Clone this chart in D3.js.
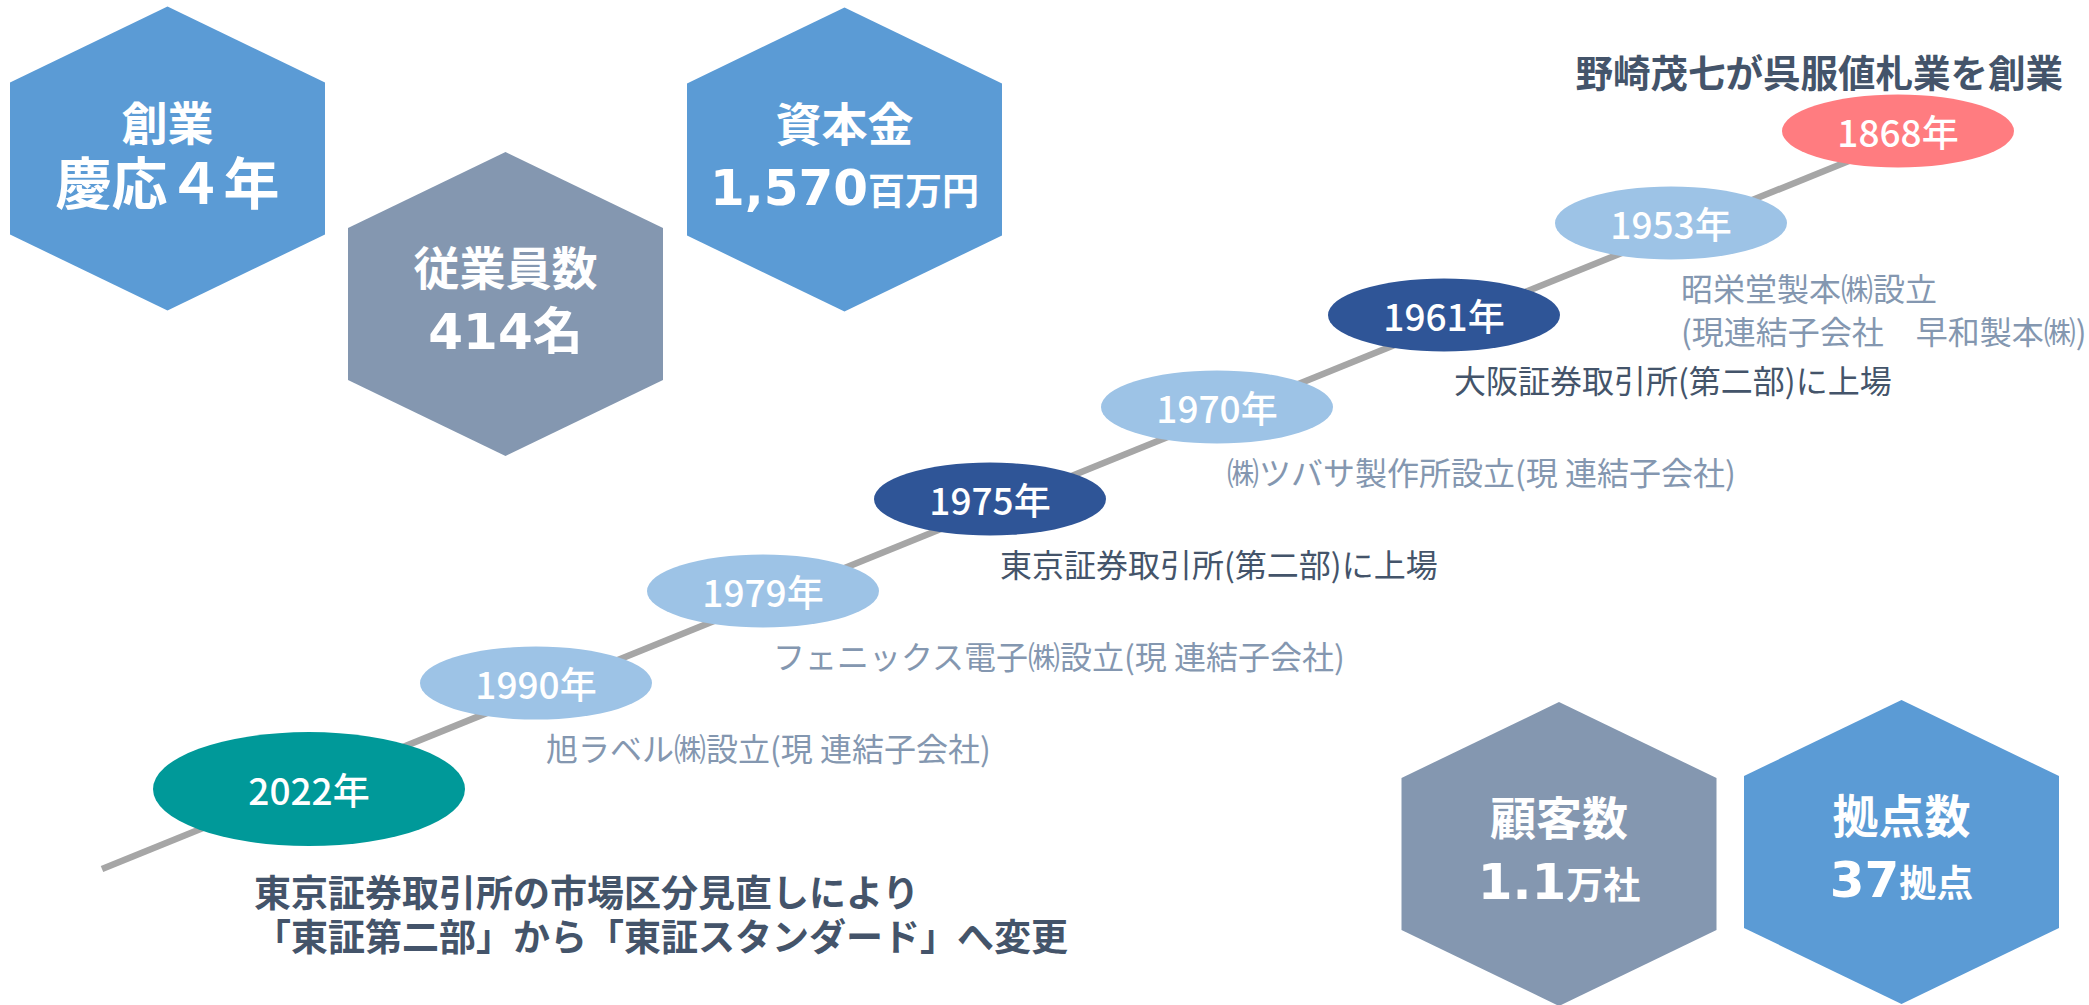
<!DOCTYPE html>
<html lang="ja">
<head>
<meta charset="utf-8">
<script src="https://cdn.jsdelivr.net/npm/d3@7"></script>
<style>
  html, body { margin: 0; padding: 0; background: #fff; }
  svg { display: block; font-family: "Noto Sans CJK JP", sans-serif; }
</style>
</head>
<body>
<svg id="chart"></svg>
<script>
// timeline milestones, newest first (bottom-left -> top-right)
const years = ["2022年", "1990年", "1979年", "1975年", "1970年", "1961年", "1953年", "1868年"];
const kinds = ["market", "subsidiary", "subsidiary", "listing", "subsidiary", "listing", "subsidiary", "founding"];
const eventText = [
  ["東京証券取引所の市場区分見直しにより", "「東証第二部」から「東証スタンダード」へ変更"],
  ["旭ラベル㈱設立(現 連結子会社)"],
  ["フェニックス電子㈱設立(現 連結子会社)"],
  ["東京証券取引所(第二部)に上場"],
  ["㈱ツバサ製作所設立(現 連結子会社)"],
  ["大阪証券取引所(第二部)に上場"],
  ["昭栄堂製本㈱設立", "(現連結子会社　早和製本㈱)"],
  ["野崎茂七が呉服値札業を創業"]
];

// key figures in the hexagons
const statTitles = ["創業", "従業員数", "資本金", "顧客数", "拠点数"];
const statValues = ["慶応４年", "414名", "1,570", "1.1", "37"];
const statUnits = ["", "", "百万円", "万社", "拠点"];

// ---- layout / styles ----
const width = 2089, height = 1005;
const hexSlots = [[167.5, 158.5], [505.5, 304], [844.5, 159.5], [1559, 854], [1901.5, 852]];
const hexFill = ["#5b9bd5", "#8497b0", "#5b9bd5", "#8497b0", "#5b9bd5"];
const hexValueSize = [56, 50, 50, 50, 50];
const hexW = 315, hexH = 304, hexTip = 76;

const nodeFill = { market: "#009999", subsidiary: "#9dc3e6", listing: "#2f5597", founding: "#ff7c80" };
const labelFill = { market: "#44546a", subsidiary: "#8497b0", listing: "#44546a", founding: "#44546a" };

const svg = d3.select("#chart").attr("width", width).attr("height", height);

// ---- timeline ----
var x = d3.scalePoint().domain(years).range([309, 1898]);
var lineY = d3.scaleLinear().domain([102, 1898]).range([869, 141]);

var nodes = years.map((y, i) => {
  let big = kinds[i] == "market";
  let nx = x(y);
  return { year: y, kind: kinds[i], lines: eventText[i], big: big,
    x: nx, y: lineY(nx) + (big ? 4 : -10),
    rx: big ? 156 : 116, ry: big ? 57 : 36.5 };
});

svg.append("path")
  .datum([102, x.range()[1]])
  .attr("d", d3.line().x(d => d).y(d => lineY(d)))
  .attr("stroke", "#a6a6a6")
  .attr("stroke-width", 6.5)
  .attr("fill", "none");

var node = svg.append("g").attr("class", "nodes")
  .selectAll("g.node")
  .data(nodes)
  .enter().append("g")
  .attr("class", "node")
  .attr("transform", d => "translate(" + d.x + "," + d.y + ")");

node.append("ellipse")
  .attr("rx", d => d.rx)
  .attr("ry", d => d.ry)
  .attr("fill", d => nodeFill[d.kind]);

node.append("text")
  .attr("text-anchor", "middle")
  .attr("dominant-baseline", "central")
  .attr("fill", "#fff")
  .style("font-size", "37px")
  .style("font-weight", 500)
  .text(d => d.year);

// event labels
node.each(function(d) {
  let g = d3.select(this);
  let t = g.append("text").attr("fill", labelFill[d.kind]);
  if (d.kind == "founding") {
    t.attr("text-anchor", "end").attr("x", 165).attr("y", -61)
      .attr("dominant-baseline", "central")
      .style("font-size", "37.5px").style("font-weight", 700)
      .text(d.lines[0]);
    return;
  }
  let dx = d.big ? -55 : 10, dy = d.big ? 102 : 64, lh = d.big ? 44 : 42.5;
  t.style("font-size", d.big ? "37px" : "32px")
    .style("font-weight", d.big ? 700 : 400);
  t.selectAll("tspan")
    .data(d.lines)
    .enter().append("tspan")
    .attr("x", dx)
    .attr("y", (l, i) => dy + i * lh)
    .attr("dominant-baseline", "central")
    .text(l => l);
});

// ---- hexagons ----
function hexPoints(c) {
  let cx = c[0], cy = c[1], hw = hexW / 2, hh = hexH / 2;
  return [[cx, cy - hh], [cx + hw, cy - hh + hexTip], [cx + hw, cy + hh - hexTip],
          [cx, cy + hh], [cx - hw, cy + hh - hexTip], [cx - hw, cy - hh + hexTip]];
}

var stats = statTitles.map((t, i) => ({ title: t, value: statValues[i], unit: statUnits[i], i: i }));

var hex = svg.append("g").attr("class", "hexes")
  .selectAll("g.hex")
  .data(stats)
  .enter().append("g")
  .attr("class", "hex");

hex.append("path")
  .attr("d", d => d3.line()(hexPoints(hexSlots[d.i])) + "Z")
  .attr("fill", d => hexFill[d.i]);

hex.append("text")
  .attr("x", d => hexSlots[d.i][0])
  .attr("y", d => hexSlots[d.i][1] - 39)
  .attr("text-anchor", "middle")
  .attr("dominant-baseline", "central")
  .attr("fill", "#fff")
  .style("font-size", "46px")
  .style("font-weight", 700)
  .text(d => d.title);

var val = hex.append("text")
  .attr("x", d => hexSlots[d.i][0])
  .attr("y", d => hexSlots[d.i][1] + 45)
  .attr("text-anchor", "middle")
  .attr("fill", "#fff")
  .style("font-family", "'DejaVu Sans', 'Noto Sans CJK JP', sans-serif")
  .style("font-weight", 700);

val.append("tspan")
  .style("font-size", d => hexValueSize[d.i] + "px")
  .text(d => d.value);

val.append("tspan")
  .style("font-size", "37px")
  .style("font-family", "'Noto Sans CJK JP', sans-serif")
  .text(d => d.unit);
</script>
</body>
</html>
